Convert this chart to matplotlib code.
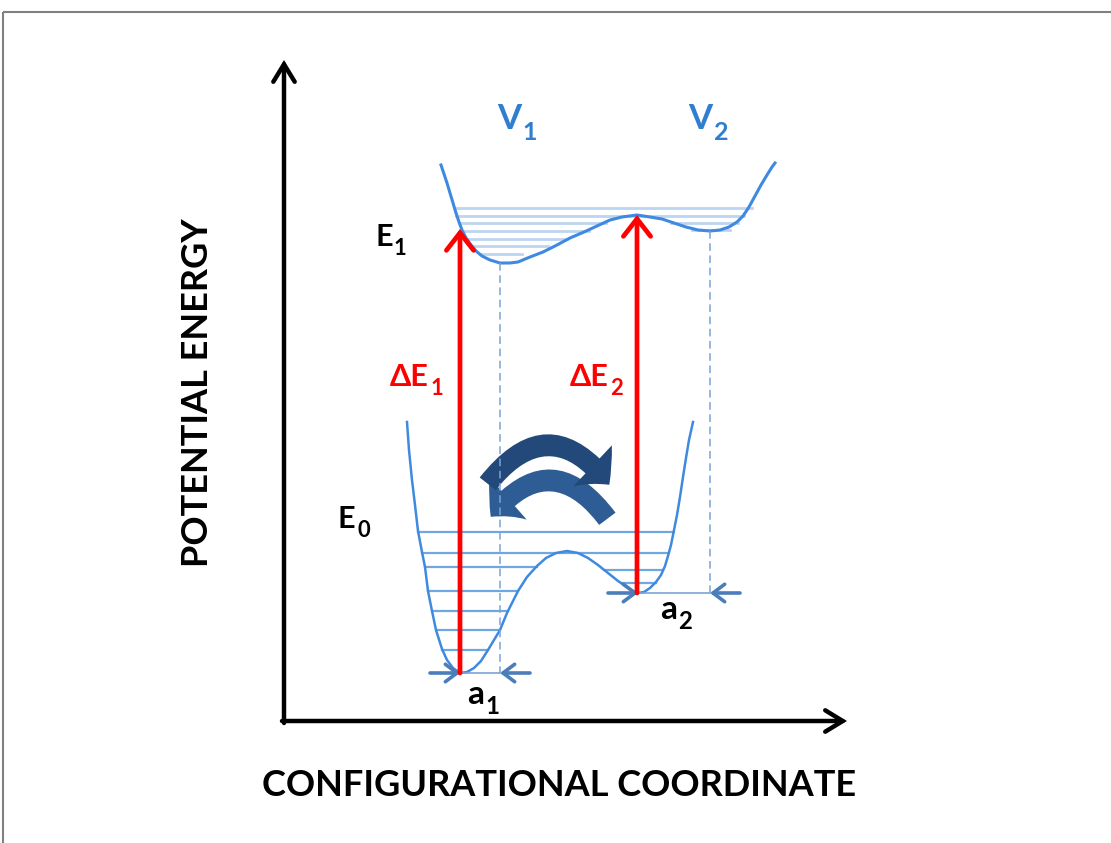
import numpy as np
import matplotlib
matplotlib.use('Agg')
import matplotlib.pyplot as plt
from matplotlib.patches import FancyArrowPatch

# --- data (pixel coordinates, y grows downwards) ---
lower_x = [407, 409, 412, 415, 418, 422, 425, 428, 432, 436, 442, 447, 453, 460,
           467, 474, 481, 488, 494, 500, 507, 513, 518, 527, 537, 546, 556, 567,
           578, 588, 598, 608, 618, 627, 633, 638, 644, 650, 656, 661, 665, 668,
           671, 674, 677, 680, 683, 686, 689, 693]
lower_y = [422, 450, 480, 505, 531, 552, 567, 591, 611, 630, 649, 660, 668, 673,
           672, 668, 661, 650, 640, 630, 613, 601, 591, 577, 566, 558, 553, 551,
           553, 558, 565, 573, 581, 587, 591, 593, 592, 588, 582, 575, 566, 556,
           545, 530, 515, 497, 477, 458, 440, 422]

upper_x = [441, 444, 447, 450, 453, 456, 459, 462, 466, 471, 476, 482, 490, 500,
           510, 518, 530, 543, 557, 570, 584, 597, 610, 622, 637, 650, 662, 674,
           686, 698, 710, 720, 729, 737, 743, 749, 755, 761, 767, 772, 775]
upper_y = [165, 174, 183, 193, 203, 213, 222, 230, 238, 245, 251, 256, 260, 263,
           263, 262, 257, 252, 245, 238, 232, 226, 220, 217, 215, 217, 219, 223,
           227, 230, 231, 230, 227, 222, 216, 207, 196, 185, 175, 167, 163]

# vibrational levels: height, left end, right end
upper_lev_y = [208, 215.5, 222.5, 222.5, 229.5, 230.5, 239, 246, 253.5]
upper_lev_x0 = [454, 456, 459, 671, 692, 462, 467, 472, 480]
upper_lev_x1 = [752, 744, 606, 738, 730, 589, 567, 548, 522]

lower_lev_y = [531.5, 552.5, 566.5, 570, 583, 591, 610.5, 630, 649.5]
lower_lev_x0 = [418, 422, 425, 604, 621, 428, 432, 436, 442]
lower_lev_x1 = [674, 668, 537, 663, 656, 518, 507, 500, 488]

# transitions (x, bottom, top)
trans_x = [460, 637]
trans_y0 = [673, 593]
trans_y1 = [229, 215]

# equilibrium positions (x of lower minimum, x of upper minimum, height)
a_lo = [460, 638]
a_hi = [500, 710]
a_base = [673, 593]
a_top = [263, 231]

fig = plt.figure(figsize=(11.11, 8.43), dpi=100)
ax = fig.add_axes([0, 0, 1, 1])
ax.set_xlim(0, 1111)
ax.set_ylim(843, 0)
ax.axis('off')

font = ['Lato', 'DejaVu Sans']

# page border
ax.plot([3, 1111], [12, 12], color='#808080', lw=1.5, solid_capstyle='butt')
ax.plot([3, 3], [12, 843], color='#808080', lw=1.5, solid_capstyle='butt')

# coordinate axes
for p0, p1 in [((284, 723), (284, 60)), ((282, 721), (847, 721))]:
    ax.add_patch(FancyArrowPatch(p0, p1, arrowstyle='->,head_length=0.9,head_width=0.55',
                                 mutation_scale=14, lw=3.2, color='black',
                                 shrinkA=0, shrinkB=0, capstyle='round', joinstyle='miter'))

ax.text(559, 785, 'CONFIGURATIONAL COORDINATE', fontsize=26, fontweight='bold',
        family=font, ha='center', va='center')
ax.text(197, 393, 'POTENTIAL ENERGY', fontsize=26, fontweight='bold',
        family=font, ha='center', va='center', rotation=90)

# level lines
for y, x0, x1 in zip(upper_lev_y, upper_lev_x0, upper_lev_x1):
    ax.plot([x0, x1], [y, y], color='#bcd5f0', lw=2, zorder=2)
for y, x0, x1 in zip(lower_lev_y, lower_lev_x0, lower_lev_x1):
    ax.plot([x0, x1], [y, y], color='#6fa7e3', lw=1.6, zorder=2)

# potential curves
ax.plot(lower_x, lower_y, color='#3f8ae0', lw=1.8, zorder=3)
ax.plot(upper_x, upper_y, color='#3f8ae0', lw=2.2, zorder=3)

# tunnelling arrows
ax.add_patch(FancyArrowPatch((609, 521), (489, 519), connectionstyle='arc3,rad=0.66',
                             arrowstyle='simple,head_width=2.9,head_length=1.3,tail_width=1.05',
                             mutation_scale=14, color='#2d5d94', lw=0, zorder=4))
ax.add_patch(FancyArrowPatch((486, 486), (611, 487), connectionstyle='arc3,rad=-0.66',
                             arrowstyle='simple,head_width=2.9,head_length=1.3,tail_width=1.05',
                             mutation_scale=14, color='#22497a', lw=0, zorder=4))

# dashed drops from upper minima
for x, y0, y1 in zip(a_hi, a_top, a_base):
    ax.plot([x, x], [y0, y1], color='#7aa3d4', lw=1.1, ls=(0, (5, 3)), zorder=5)

# displacement markers
for xl, xh, y in zip(a_lo, a_hi, a_base):
    ax.plot([xl, xh], [y, y], color='#7aa3d4', lw=1.2, zorder=5)
    ax.add_patch(FancyArrowPatch((xl - 30, y), (xl, y), arrowstyle='->,head_length=0.6,head_width=0.45',
                                 mutation_scale=14, lw=2.6, color='#4a7dba', shrinkA=0, shrinkB=0, zorder=6))
    ax.add_patch(FancyArrowPatch((xh + 30, y), (xh, y), arrowstyle='->,head_length=0.6,head_width=0.45',
                                 mutation_scale=14, lw=2.6, color='#4a7dba', shrinkA=0, shrinkB=0, zorder=6))

# vertical transitions
for x, y0, y1 in zip(trans_x, trans_y0, trans_y1):
    ax.add_patch(FancyArrowPatch((x, y0), (x, y1), arrowstyle='->,head_length=0.9,head_width=0.7',
                                 mutation_scale=14, lw=3.4, color='#ff0000', shrinkA=0, shrinkB=0,
                                 joinstyle='miter', zorder=7))


def label(x, y, main, sub, color, size):
    t = ax.text(x, y, main, color=color, fontsize=size, fontweight='bold',
                family=font, ha='left', va='baseline', zorder=8)
    ax.annotate(sub, xy=(1, 0), xycoords=t, xytext=(1, 2), textcoords='offset points',
                color=color, fontsize=size * 0.72, fontweight='bold', family=font,
                ha='left', va='center', zorder=8)


label(497, 129, 'V', '1', '#2f7ed0', 25)
label(688, 129, 'V', '2', '#2f7ed0', 25)
label(375, 246, 'E', '1', 'black', 22)
label(338, 528, 'E', '0', 'black', 22)
label(390, 386, 'ΔE', '1', '#ff0000', 22)
label(570, 386, 'ΔE', '2', '#ff0000', 22)
label(467, 704, 'a', '1', 'black', 24)
label(660, 619, 'a', '2', 'black', 24)

fig.savefig('out.png', dpi=100)
